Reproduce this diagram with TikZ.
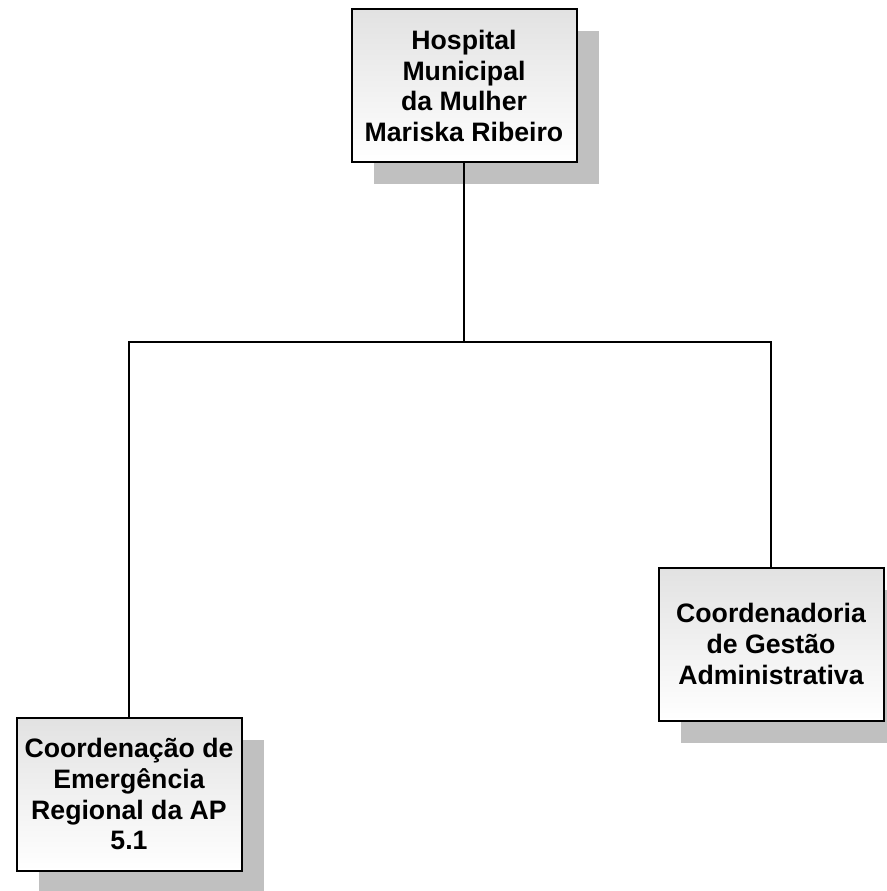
\documentclass[tikz,border=0pt]{standalone}
\usepackage{fontspec}
\setmainfont{Liberation Sans}
\usetikzlibrary{positioning,shadows}
\definecolor{ink}{HTML}{000000}
\definecolor{shade}{HTML}{C0C0C0}
\definecolor{boxtop}{HTML}{E2E2E2}
\newcommand{\UnitW}{225}
\newcommand{\UnitH}{153}

\begin{document}
\begin{tikzpicture}[x=0.75pt, y=-0.75pt, ink,
    unit/.style={draw=ink, line width=1.5pt, top color=boxtop, bottom color=white,
      minimum width=\UnitW*0.75pt, minimum height=\UnitH*0.75pt, align=center, inner sep=2pt,
      font=\fontsize{20}{23.2}\selectfont\bfseries,
      drop shadow={shadow xshift=16.5pt, shadow yshift=-16.5pt, fill=shade, opacity=1}},
    link/.style={draw=ink, line width=1pt},
  ]
% --- Page -------------------------------------------------------------------------
\useasboundingbox (0,0) rectangle (887,891);

% --- Units ------------------------------------------------------------------------
\node[unit] (hosp) at (464,86) {Hospital\\Municipal\\da Mulher\\Mariska Ribeiro};
\node[unit] (emerg) at (129,794) {Coordenação de\\Emergência\\Regional da AP\\5.1};
\node[unit] (gestao) at (771,644) {Coordenadoria\\de Gestão\\Administrativa};

% --- Links ------------------------------------------------------------------------
\coordinate (bus) at (464,342);
\draw[link] (hosp.south) -- (bus);
\draw[link] (bus) -| (emerg.north);
\draw[link] (bus) -| (gestao.north);
\end{tikzpicture}
\end{document}
